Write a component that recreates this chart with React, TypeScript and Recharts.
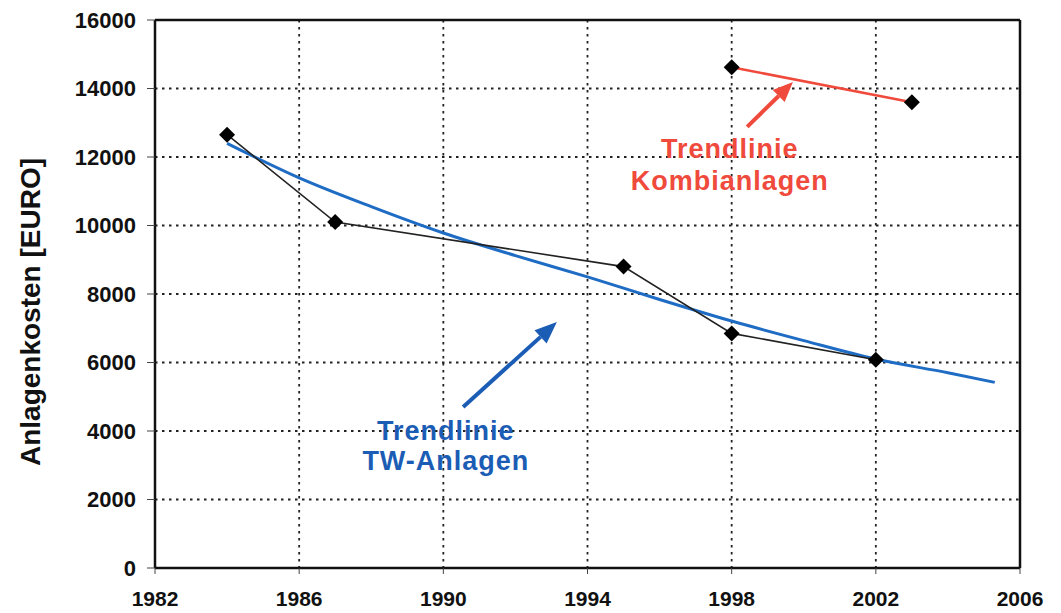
import React from "react";
import {
  LineChart,
  Line,
  XAxis,
  YAxis,
  CartesianGrid,
  ReferenceLine,
  ReferenceDot,
} from "recharts";

const years = [1982, 1986, 1990, 1994, 1998, 2002, 2006];
const costTicks = [0, 2000, 4000, 6000, 8000, 10000, 12000, 14000, 16000];

const twYears = [1984, 1987, 1995, 1998, 2002];
const twCosts = [12650, 10100, 8800, 6850, 6080];

const kombiYears = [1998, 2003];
const kombiCosts = [14620, 13600];

const trendYears = [1984, 1986, 1988, 1990, 1992, 1994, 1996, 1998, 2000, 2002, 2004, 2005.3];
const trendCosts = [12400, 11390, 10550, 9780, 9120, 8500, 7840, 7210, 6640, 6100, 5700, 5420];

const twData = twYears.map((y, i) => ({ year: y, cost: twCosts[i] }));
const kombiData = kombiYears.map((y, i) => ({ year: y, cost: kombiCosts[i] }));
const trendData = trendYears.map((y, i) => ({ year: y, cost: trendCosts[i] }));

const BLUE = "#1f6cc4";
const BLUE_TEXT = "#1b5db5";
const RED = "#ef4a3c";
const FONT = "'Liberation Sans', Arial, sans-serif";

const Diamond = (props: any) => {
  const { cx, cy } = props;
  if (cx == null || cy == null) return null;
  const r = 8;
  return (
    <polygon
      points={`${cx},${cy - r} ${cx + r},${cy} ${cx},${cy + r} ${cx - r},${cy}`}
      fill="#000"
    />
  );
};

const makeArrow = (color: string, width: number, headLen: number, headW: number) => (props: any) => {
  const { x1, y1, x2, y2 } = props;
  if ([x1, y1, x2, y2].some((v) => v == null || isNaN(v))) return null;
  const dx = x2 - x1;
  const dy = y2 - y1;
  const len = Math.sqrt(dx * dx + dy * dy);
  const ux = dx / len;
  const uy = dy / len;
  const bx = x2 - ux * headLen;
  const by = y2 - uy * headLen;
  const px = -uy * (headW / 2);
  const py = ux * (headW / 2);
  return (
    <g>
      <line x1={x1} y1={y1} x2={bx} y2={by} stroke={color} strokeWidth={width} />
      <polygon
        points={`${x2},${y2} ${bx + px},${by + py} ${bx - px},${by - py}`}
        fill={color}
      />
    </g>
  );
};

const makeText = (text: string, color: string) => (props: any) => {
  const { cx, cy } = props;
  return (
    <text
      x={cx}
      y={cy}
      textAnchor="middle"
      fill={color}
      fontFamily={FONT}
      fontWeight="bold"
      fontSize={27}
      letterSpacing={1}
    >
      {text}
    </text>
  );
};

const YLabel = (props: any) => {
  const vb = props.viewBox || { x: 0, y: 20, width: 155, height: 548 };
  const x = vb.x + 40;
  const y = vb.y + vb.height / 2 + 18;
  return (
    <text
      x={x}
      y={y}
      transform={`rotate(-90, ${x}, ${y})`}
      textAnchor="middle"
      fill="#111"
      fontFamily={FONT}
      fontWeight="bold"
      fontSize={28}
    >
      Anlagenkosten [EURO]
    </text>
  );
};

export default function App() {
  return (
    <div style={{ width: 1061, height: 613, background: "#fff" }}>
      <style>{`body{margin:0;background:#fff;}`}</style>
      <LineChart
        width={1061}
        height={613}
        margin={{ top: 20, right: 41, bottom: 0, left: 0 }}
      >
        <CartesianGrid
          stroke="#222"
          strokeWidth={1.8}
          strokeDasharray="2.5 4.5"
          horizontalValues={costTicks}
          verticalValues={years}
        />
        <XAxis
          type="number"
          dataKey="year"
          domain={[1982, 2006]}
          ticks={years}
          interval={0}
          height={45}
          tickSize={6}
          tickMargin={17}
          axisLine={{ stroke: "#111", strokeWidth: 2.5 }}
          tickLine={{ stroke: "#444", strokeWidth: 1 }}
          tick={{ fill: "#111", fontFamily: FONT, fontWeight: "bold", fontSize: 21 }}
          allowDataOverflow
        />
        <YAxis
          type="number"
          domain={[0, 16000]}
          ticks={costTicks}
          interval={0}
          width={155}
          tickSize={8}
          tickMargin={11}
          axisLine={{ stroke: "#111", strokeWidth: 2.5 }}
          tickLine={{ stroke: "#444", strokeWidth: 1 }}
          tick={{ fill: "#111", fontFamily: FONT, fontWeight: "bold", fontSize: 22 }}
          label={<YLabel />}
          allowDataOverflow
        />
        <ReferenceLine y={16000} stroke="#111" strokeWidth={2.5} />
        <ReferenceLine x={2006} stroke="#111" strokeWidth={2.5} />

        <Line
          data={trendData}
          dataKey="cost"
          type="monotone"
          stroke={BLUE}
          strokeWidth={3}
          dot={false}
          isAnimationActive={false}
        />
        <Line
          data={twData}
          dataKey="cost"
          type="linear"
          stroke="#222"
          strokeWidth={1.6}
          dot={<Diamond />}
          isAnimationActive={false}
        />
        <Line
          data={kombiData}
          dataKey="cost"
          type="linear"
          stroke={RED}
          strokeWidth={2.5}
          dot={false}
          isAnimationActive={false}
        />
        <Line
          data={kombiData}
          dataKey="cost"
          type="linear"
          stroke="none"
          dot={<Diamond />}
          isAnimationActive={false}
        />

        <ReferenceLine
          segment={[
            { x: 1990.55, y: 4700 },
            { x: 1993.15, y: 7180 },
          ]}
          shape={makeArrow(BLUE_TEXT, 4, 22, 18)}
          ifOverflow="visible"
        />
        <ReferenceLine
          segment={[
            { x: 1998.43, y: 12880 },
            { x: 1999.7, y: 14190 },
          ]}
          shape={makeArrow(RED, 4, 20, 17)}
          ifOverflow="visible"
        />

        <ReferenceDot x={1990.07} y={3740} r={0} shape={makeText("Trendlinie", BLUE_TEXT)} ifOverflow="visible" />
        <ReferenceDot x={1990.07} y={2860} r={0} shape={makeText("TW-Anlagen", BLUE_TEXT)} ifOverflow="visible" />
        <ReferenceDot x={1997.95} y={11970} r={0} shape={makeText("Trendlinie", RED)} ifOverflow="visible" />
        <ReferenceDot x={1997.95} y={11040} r={0} shape={makeText("Kombianlagen", RED)} ifOverflow="visible" />
      </LineChart>
    </div>
  );
}
